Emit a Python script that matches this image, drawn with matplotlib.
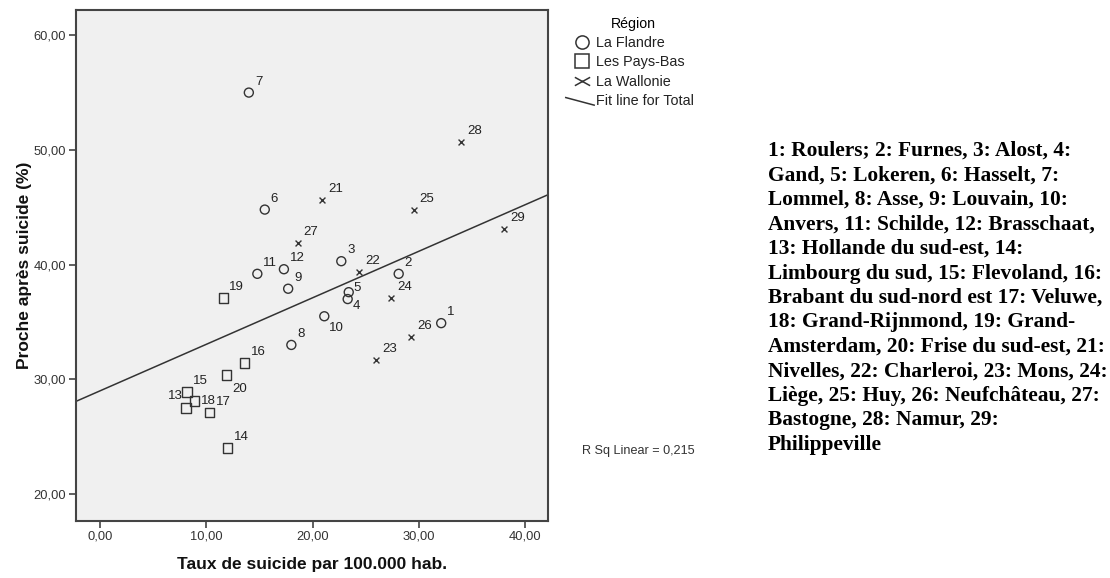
import numpy as np
import matplotlib
matplotlib.use("Agg")
import matplotlib.pyplot as plt
from matplotlib.lines import Line2D
from matplotlib.path import Path
from matplotlib.legend_handler import HandlerBase

plt.rcParams['font.family'] = ['Liberation Sans', 'DejaVu Sans']

# La Flandre (1-12)
flandre_id = [1, 2, 3, 4, 5, 6, 7, 8, 9, 10, 11, 12]
flandre_x = [32.1, 28.1, 22.7, 23.3, 23.4, 15.5, 14.0, 18.0, 17.7, 21.1, 14.8, 17.3]
flandre_y = [34.9, 39.2, 40.3, 37.0, 37.6, 44.8, 55.0, 33.0, 37.9, 35.5, 39.2, 39.6]

# Les Pays-Bas (13-20)
pb_id = [13, 14, 15, 16, 17, 18, 19, 20]
pb_x = [8.1, 12.0, 8.2, 13.6, 10.3, 8.9, 11.6, 11.9]
pb_y = [27.5, 24.0, 28.9, 31.4, 27.1, 28.1, 37.1, 30.4]

# La Wallonie (21-29)
wal_id = [21, 22, 23, 24, 25, 26, 27, 28, 29]
wal_x = [20.9, 24.4, 26.0, 27.4, 29.5, 29.3, 18.6, 34.0, 38.0]
wal_y = [45.6, 39.4, 31.7, 37.1, 44.8, 33.7, 41.9, 50.7, 43.1]

r2_text = "R Sq Linear = 0,215"
legend_title = "Région"
group_names = ["La Flandre", "Les Pays-Bas", "La Wallonie"]
note_lines = [
    "1: Roulers; 2: Furnes, 3: Alost, 4:",
    "Gand, 5: Lokeren, 6: Hasselt, 7:",
    "Lommel, 8: Asse, 9: Louvain, 10:",
    "Anvers, 11: Schilde, 12: Brasschaat,",
    "13: Hollande du sud-est, 14:",
    "Limbourg du sud, 15: Flevoland, 16:",
    "Brabant du sud-nord est 17: Veluwe,",
    "18: Grand-Rijnmond, 19: Grand-",
    "Amsterdam, 20: Frise du sud-est, 21:",
    "Nivelles, 22: Charleroi, 23: Mons, 24:",
    "Liège, 25: Huy, 26: Neufchâteau, 27:",
    "Bastogne, 28: Namur, 29:",
    "Philippeville",
]

# label offsets (pixels) that differ from the default up-right placement
label_offsets = {4: (5, -7), 5: (5, 4), 10: (5, -12), 13: (-18, 12),
                 18: (6, 0), 20: (6, -14)}

ink = '#333333'

fig = plt.figure(figsize=(11.1, 5.78), dpi=100)
ax = fig.add_axes([0.0685, 0.0986, 0.4252, 0.8841])
ax.set_facecolor('#f0f0f0')

ax.scatter(flandre_x, flandre_y, s=42, marker='o', facecolors='none',
           edgecolors=ink, linewidths=1.0, zorder=3)
ax.scatter(pb_x, pb_y, s=48, marker='s', facecolors='none',
           edgecolors=ink, linewidths=1.0, zorder=3)
ax.scatter(wal_x, wal_y, s=18, marker='x', color=ink, linewidths=1.0, zorder=3)

all_x = np.array(flandre_x + pb_x + wal_x)
all_y = np.array(flandre_y + pb_y + wal_y)
all_id = flandre_id + pb_id + wal_id

xlim = (-2.26, 42.15)
ylim = (17.65, 62.2)
slope, icpt = np.polyfit(all_x, all_y, 1)
xs = np.array(xlim)
ax.plot(xs, icpt + slope * xs, color=ink, lw=1.1, zorder=2)

for i, x, y in zip(all_id, all_x, all_y):
    dx, dy = label_offsets.get(i, (6, 11))
    ax.annotate(str(i), (x, y), xytext=(dx, dy), textcoords='offset pixels',
                ha='left', va='center', fontsize=9.5, color='#222222')

ax.set_xlim(xlim)
ax.set_ylim(ylim)
ax.set_xticks([0, 10, 20, 30, 40])
ax.set_yticks([20, 30, 40, 50, 60])
ax.xaxis.set_major_formatter(lambda v, p: f"{v:.2f}".replace('.', ','))
ax.yaxis.set_major_formatter(lambda v, p: f"{v:.2f}".replace('.', ','))
ax.tick_params(direction='out', length=5, width=1.2, color='#444444',
               labelsize=9.3, labelcolor='#333333', pad=2)
for sp in ax.spines.values():
    sp.set_color('#444444')
    sp.set_linewidth(1.5)

ax.set_xlabel("Taux de suicide par 100.000 hab.", fontsize=12.5,
              fontweight='bold', color='#111111', labelpad=10)
ax.set_ylabel("Proche après suicide (%)", fontsize=12.5,
              fontweight='bold', color='#111111', labelpad=1)


class DiagHandler(HandlerBase):
    def create_artists(self, legend, orig_handle, xdescent, ydescent,
                       width, height, fontsize, trans):
        ln = Line2D([-xdescent - 6, width - xdescent + 3], [height * 0.75, 0.0],
                    color=ink, lw=1.1, transform=trans)
        return [ln]


# flattened X like the legend glyph in the reference
flat_x = Path([(-1, -0.55), (1, 0.55), (-1, 0.55), (1, -0.55)],
              [Path.MOVETO, Path.LINETO, Path.MOVETO, Path.LINETO])

handles = [
    Line2D([], [], ls='none', marker='o', markersize=9.5, mfc='none', mec=ink, mew=1.1),
    Line2D([], [], ls='none', marker='s', markersize=9.5, mfc='none', mec=ink, mew=1.1),
    Line2D([], [], ls='none', marker=flat_x, markersize=11, color=ink, mew=1.1),
    Line2D([], [], color=ink),
]
leg = fig.legend(handles, group_names + ["Fit line for Total"], title=legend_title,
                 loc='upper left', bbox_to_anchor=(0.512, 0.981), frameon=False,
                 fontsize=10.4, title_fontsize=10.2, handlelength=1.1,
                 handletextpad=0.4, labelspacing=0.37, borderaxespad=0,
                 handler_map={handles[3]: DiagHandler()})
for t in leg.get_texts():
    t.set_color('#222222')

fig.text(638 / 1110, 1 - 451 / 578, r2_text, ha='center', va='center',
         fontsize=9.1, color='#333333')

fig.text(768 / 1110, 1 - 141 / 578, "\n".join(note_lines), ha='left', va='top',
         fontsize=15.4, fontweight='bold', family='Liberation Serif',
         linespacing=1.30, color='black')

fig.savefig("out.png", dpi=100)
